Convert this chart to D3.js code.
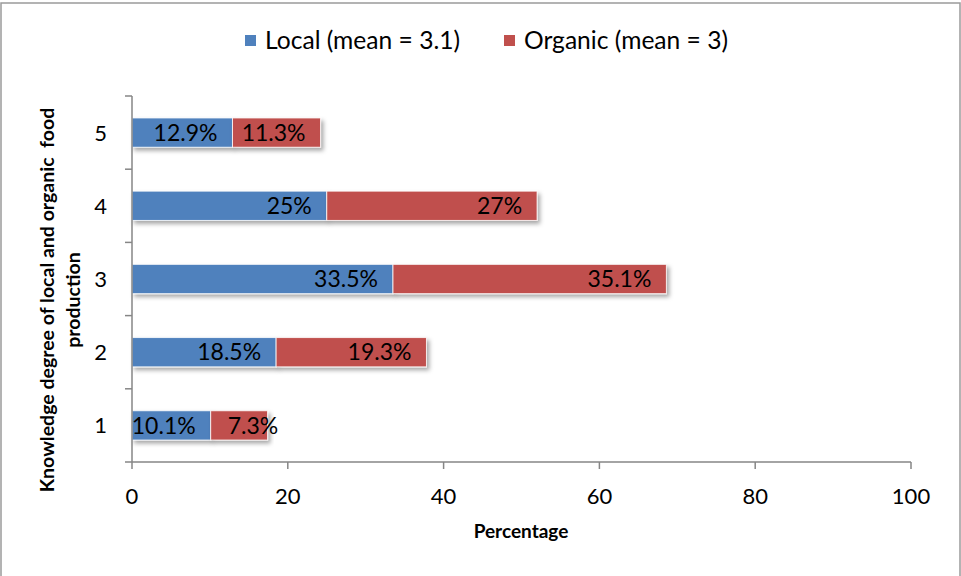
<!DOCTYPE html>
<html>
<head>
<meta charset="utf-8">
<script src="https://cdn.jsdelivr.net/npm/d3@7/dist/d3.min.js"></script>
<style>
  html, body { margin: 0; padding: 0; background: #fff; }
  svg { display: block; font-family: Lato, "Open Sans", sans-serif; }
</style>
</head>
<body>
<svg id="chart" width="961" height="576"></svg>
<script>
// Knowledge level (1–5) and share of respondents per group, in percent
const categories = ["1", "2", "3", "4", "5"];
const localValues = [10.1, 18.5, 33.5, 25, 12.9];
const organicValues = [7.3, 19.3, 35.1, 27, 11.3];
const seriesNames = ["Local (mean = 3.1)", "Organic (mean = 3)"];
const xTicks = [0, 20, 40, 60, 80, 100];

const colors = ["#4F81BD", "#C0504D"];
const axisColor = "#868686";

const svg = d3.select("#chart");

// drop shadow under the bars
const defs = svg.append("defs");
const shadow = defs.append("filter").attr("id", "barShadow")
  .attr("x", "-5%").attr("y", "-30%").attr("width", "115%").attr("height", "180%");
shadow.append("feDropShadow")
  .attr("dx", 2.5).attr("dy", 3).attr("stdDeviation", 2)
  .attr("flood-color", "#000").attr("flood-opacity", 0.35);

// outer frame
svg.append("rect")
  .attr("x", 1).attr("y", 3).attr("width", 959).attr("height", 590)
  .attr("fill", "none").attr("stroke", "#9a9a9a").attr("stroke-width", 1.5);

const x = d3.scaleLinear().domain([0, 100]).range([132, 911]);
const y = d3.scaleBand().domain(categories).range([462, 96])
  .paddingInner(0.6).paddingOuter(0.3);
const step = y.step();

// stacked rows
const rows = categories.map((c, i) => ({ cat: c, vals: [localValues[i], organicValues[i]] }));
const stack = d3.stack().keys([0, 1]).value((d, k) => d.vals[k]);
const layers = stack(rows);

const barG = svg.append("g");
layers.forEach((layer, k) => {
  barG.append("g").selectAll("rect")
    .data(layer)
    .join("rect")
    .attr("x", d => x(d[0]))
    .attr("y", d => y(d.data.cat))
    .attr("width", d => x(d[1]) - x(d[0]))
    .attr("height", y.bandwidth())
    .attr("fill", colors[k])
    .attr("stroke", "#ffffff")
    .attr("stroke-opacity", 0.8)
    .attr("stroke-width", 1)
    .attr("filter", "url(#barShadow)");
});

// value labels, inside the end of each segment
const labelG = svg.append("g")
  .attr("font-size", 23).attr("fill", "#000");
layers.forEach((layer, k) => {
  layer.forEach(d => {
    const val = d.data.vals[k];
    const t = labelG.append("text")
      .attr("y", y(d.data.cat) + y.bandwidth() / 2)
      .attr("dy", "0.36em")
      .text(val + "%");
    const w = t.node().getComputedTextLength();
    const end = x(d[1]) - 15;
    if (end - w < x(d[0]) - 5) {
      t.attr("x", x(d[0]) + 17).attr("text-anchor", "start");
    } else {
      t.attr("x", end).attr("text-anchor", "end");
    }
  });
});

// y axis
const axG = svg.append("g").attr("stroke", axisColor).attr("stroke-width", 1.5);
axG.append("line")
  .attr("x1", x(0)).attr("x2", x(0))
  .attr("y1", 96).attr("y2", 462);
const boundaries = [categories[0]].map(c => y(c) + y.bandwidth() + step * 0.3)
  .concat(categories.map(c => y(c) - step * 0.3));
axG.selectAll(".ytick").data(boundaries).join("line")
  .attr("x1", x(0) - 7).attr("x2", x(0))
  .attr("y1", d => d).attr("y2", d => d);

// x axis
axG.append("line")
  .attr("x1", x(0)).attr("x2", x(100))
  .attr("y1", 462).attr("y2", 462);
axG.selectAll(".xtick").data(xTicks).join("line")
  .attr("x1", d => x(d)).attr("x2", d => x(d))
  .attr("y1", 462).attr("y2", 469);

// tick labels
svg.append("g").attr("font-size", 22).attr("text-anchor", "middle")
  .selectAll("text").data(xTicks).join("text")
  .attr("x", d => x(d)).attr("y", 504)
  .text(d => d);

svg.append("g").attr("font-size", 22).attr("text-anchor", "end")
  .selectAll("text").data(categories).join("text")
  .attr("x", 107).attr("y", d => y(d) + y.bandwidth() / 2)
  .attr("dy", "0.36em")
  .text(d => d);

// axis titles
svg.append("text")
  .attr("x", 521).attr("y", 538)
  .attr("text-anchor", "middle")
  .attr("font-size", 19).attr("font-weight", "bold")
  .text("Percentage");

const yTitle = svg.append("text")
  .attr("transform", "translate(54,300) rotate(-90)")
  .attr("text-anchor", "middle")
  .attr("font-size", 19.5).attr("font-weight", "bold")
  .style("white-space", "pre");
yTitle.append("tspan").attr("x", 0).attr("y", 0)
  .text("Knowledge degree of local and organic  food");
yTitle.append("tspan").attr("x", 0).attr("y", 26).text("production");

// legend
const legendPos = [245, 504];
const legend = svg.append("g");
seriesNames.forEach((name, k) => {
  legend.append("rect")
    .attr("x", legendPos[k]).attr("y", 35)
    .attr("width", 11).attr("height", 11)
    .attr("fill", colors[k]);
  legend.append("text")
    .attr("x", legendPos[k] + 20).attr("y", 49)
    .attr("font-size", 24.6)
    .text(name);
});
</script>
</body>
</html>
